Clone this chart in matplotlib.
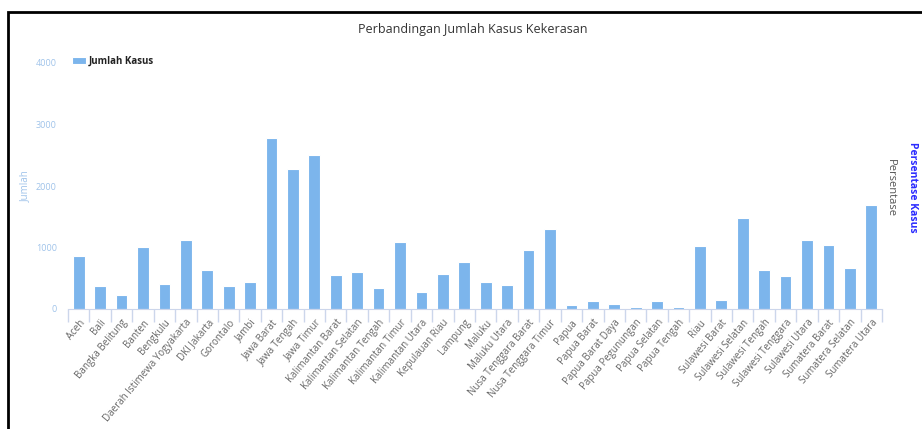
import numpy as np
import matplotlib
matplotlib.use("Agg")
import matplotlib.pyplot as plt
from matplotlib.patches import Rectangle

plt.rcParams['font.family'] = ['Open Sans', 'DejaVu Sans']

# data
provinsi = [
    "Aceh", "Bali", "Bangka Belitung", "Banten", "Bengkulu",
    "Daerah Istimewa Yogyakarta", "DKI Jakarta", "Gorontalo", "Jambi",
    "Jawa Barat", "Jawa Tengah", "Jawa Timur", "Kalimantan Barat",
    "Kalimantan Selatan", "Kalimantan Tengah", "Kalimantan Timur",
    "Kalimantan Utara", "Kepulauan Riau", "Lampung", "Maluku",
    "Maluku Utara", "Nusa Tenggara Barat", "Nusa Tenggara Timur", "Papua",
    "Papua Barat", "Papua Barat Daya", "Papua Pegunungan", "Papua Selatan",
    "Papua Tengah", "Riau", "Sulawesi Barat", "Sulawesi Selatan",
    "Sulawesi Tengah", "Sulawesi Tenggara", "Sulawesi Utara",
    "Sumatera Barat", "Sumatera Selatan", "Sumatera Utara",
]
jumlah_kasus = [
    867, 369, 223, 1008, 401, 1122, 640, 369, 444, 2786, 2276, 2499,
    547, 607, 336, 1089, 271, 574, 764, 434, 385, 959, 1301, 60,
    130, 81, 33, 130, 33, 1030, 146, 1474, 640, 531, 1122, 1041,
    672, 1696,
]
y_ticks = [0, 1000, 2000, 3000, 4000]

W, H = 922, 429
fig = plt.figure(figsize=(W / 100, H / 100), dpi=100)

# black frame round the chart
fig.patches.append(Rectangle((8 / W, -0.05), 1.2, (H - 12) / H + 0.05,
                             transform=fig.transFigure, fill=False,
                             edgecolor="black", linewidth=2))

ax = fig.add_axes([68 / W, (H - 309) / H, (882 - 68) / W, (309 - 63) / H])
x = np.arange(len(provinsi))
ax.bar(x, jumlah_kasus, width=0.55, color="#7cb5ec", edgecolor="white",
       linewidth=0.8, label="Jumlah Kasus", zorder=2)

ax.set_xlim(-0.5, len(provinsi) - 0.5)
ax.set_ylim(0, 4000)
ax.set_yticks(y_ticks)
ax.set_yticklabels([str(v) for v in y_ticks], fontsize=6.5, color="#9fc3ea")
ax.tick_params(axis="y", length=0, pad=8)

ax.set_xticks(x)
ax.set_xticklabels(provinsi, rotation=50, ha="right", va="top",
                   rotation_mode="anchor", fontsize=7, color="#666666")
ax.tick_params(axis="x", which="major", length=0, pad=6)
ax.set_xticks(np.arange(-0.5, len(provinsi)), minor=True)
ax.tick_params(axis="x", which="minor", length=9, color="#ccd6eb", width=1)

for s in ["top", "right", "left"]:
    ax.spines[s].set_visible(False)
ax.spines["bottom"].set_color("#ccd6eb")

fig.text(25 / W, (H - 186) / H, "Jumlah", rotation=90, ha="center",
         va="center", fontsize=7, color="#9fc3ea")

fig.text(473 / W, (H - 29) / H, "Perbandingan Jumlah Kasus Kekerasan",
         ha="center", va="center", fontsize=9, color="#333333")
fig.text(890 / W, (H - 188) / H, "Persentase", rotation=270,
         ha="center", va="center", fontsize=8, color="#555555")
fig.text(912 / W, (H - 187) / H, "Persentase Kasus", rotation=270,
         ha="center", va="center", fontsize=7.5, color="#2b2bff",
         fontweight="bold")

leg = ax.legend(loc="upper left", bbox_to_anchor=(0.0, 1.045), frameon=False,
                fontsize=7, handlelength=1.4, handleheight=0.8,
                handletextpad=0.3, borderaxespad=0)
for t in leg.get_texts():
    t.set_fontweight("bold")
    t.set_color("#222222")

fig.savefig("out.png", dpi=100)
